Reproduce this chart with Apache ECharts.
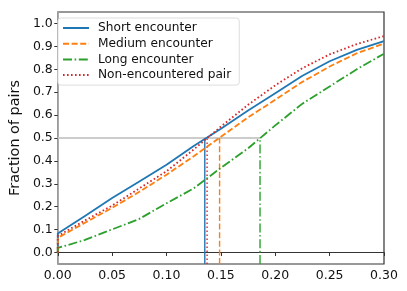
<!DOCTYPE html>
<html><head><meta charset="utf-8">
<script src="https://cdn.jsdelivr.net/npm/echarts@6/dist/echarts.min.js"></script>
<style>html,body{margin:0;padding:0;background:#fff}#c{width:407px;height:291px}</style>
</head><body><div id="c"></div>
<script>
var xValues = [0, 0, 0.025, 0.05, 0.075, 0.1, 0.125, 0.15, 0.175, 0.2, 0.225, 0.25, 0.275, 0.3];
var shortEnc = [0, 0.083, 0.16, 0.238, 0.31, 0.383, 0.465, 0.54, 0.62, 0.695, 0.772, 0.835, 0.885, 0.923];
var mediumEnc = [0, 0.064, 0.13, 0.195, 0.265, 0.34, 0.42, 0.505, 0.59, 0.667, 0.745, 0.812, 0.87, 0.912];
var longEnc = [0, 0.02, 0.055, 0.101, 0.147, 0.215, 0.28, 0.37, 0.455, 0.555, 0.65, 0.725, 0.8, 0.868];
var nonEnc = [0, 0.072, 0.14, 0.205, 0.28, 0.355, 0.45, 0.55, 0.645, 0.73, 0.805, 0.865, 0.91, 0.945];
var names = ['Short encounter', 'Medium encounter', 'Long encounter', 'Non-encountered pair'];
var medians = [0.1352, 0.1488, 0.186, 0.1373];
var yTicks = [0.0, 0.1, 0.2, 0.3, 0.4, 0.5, 0.6, 0.7, 0.8, 0.9, 1.0];
var xTicks = [0.00, 0.05, 0.10, 0.15, 0.20, 0.25, 0.30];

var colors = ['#1f77b4', '#ff7f0e', '#2ca02c', '#d62728'];
var dashes = ['solid', [6, 2.6], [9, 2.6, 1.6, 2.6], [1.6, 2.4]];
var seriesVals = [shortEnc, mediumEnc, longEnc, nonEnc];
var LW = 1.8;

function pairs(vals) { return vals.map(function (v, i) { return [xValues[i], v]; }); }

var series = [];
series.push({
  type: 'line', data: [[0, 0.5], [Math.max.apply(null, medians), 0.5]],
  symbol: 'none', silent: true, z: 1,
  lineStyle: { color: '#cccccc', width: 1.8 }
});
for (var k = 0; k < 4; k++) {
  series.push({
    name: names[k], type: 'line', data: pairs(seriesVals[k]),
    symbol: 'none', smooth: false, z: 3,
    lineStyle: { color: colors[k], width: LW, type: dashes[k], join: 'round' },
    itemStyle: { color: colors[k] }
  });
}
for (var k = 0; k < 4; k++) {
  series.push({
    type: 'line', data: [[medians[k], -0.05], [medians[k], 0.5]],
    symbol: 'none', silent: true, z: 2,
    lineStyle: { color: colors[k], width: 1.4, type: dashes[k] }
  });
}

var chart = echarts.init(document.getElementById('c'), null, { renderer: 'canvas' });
chart.setOption({
  animation: false,
  backgroundColor: '#fff',
  textStyle: { fontFamily: 'DejaVu Sans' },
  grid: { left: 52, right: 23, top: 12, bottom: 27, show: true, borderColor: '#333', borderWidth: 1.2, backgroundColor: 'transparent' },
  legend: {
    data: names, orient: 'vertical', left: 58, top: 18,
    itemWidth: 26, itemHeight: 14, itemGap: 3.7,
    padding: [4, 8, 4, 4],
    itemStyle: { opacity: 0 },
    backgroundColor: '#fff', borderColor: '#dddddd', borderWidth: 1, borderRadius: 3,
    textStyle: { fontSize: 12.2, color: '#111', fontFamily: 'DejaVu Sans', padding: [0, 0, 0, 4] }
  },
  xAxis: {
    type: 'value', min: 0, max: 0.3, interval: 0.05,
    axisLine: { show: true, lineStyle: { color: '#333', width: 1.2 } },
    axisTick: { show: true, length: 3.5, lineStyle: { color: '#333' } },
    axisLabel: { fontSize: 12.5, color: '#111', margin: 5,
      customValues: xTicks, fontFamily: 'DejaVu Sans',
      formatter: function (v) { return v.toFixed(2); } },
    splitLine: { show: false }
  },
  yAxis: {
    type: 'value', min: -0.05, max: 1.05,
    name: 'Fraction of pairs', nameLocation: 'middle', nameGap: 29,
    nameTextStyle: { fontSize: 14.4, color: '#111', fontFamily: 'DejaVu Sans' },
    axisLine: { show: true, lineStyle: { color: '#aaaaaa', width: 1.6 } },
    axisTick: { show: true, length: 3.5, customValues: yTicks, lineStyle: { color: '#333' } },
    axisLabel: { fontSize: 12.5, color: '#111', margin: 5, customValues: yTicks, fontFamily: 'DejaVu Sans',
      formatter: function (v) { return v.toFixed(1); } },
    splitLine: { show: false }
  },
  series: series
});
</script></body></html>
